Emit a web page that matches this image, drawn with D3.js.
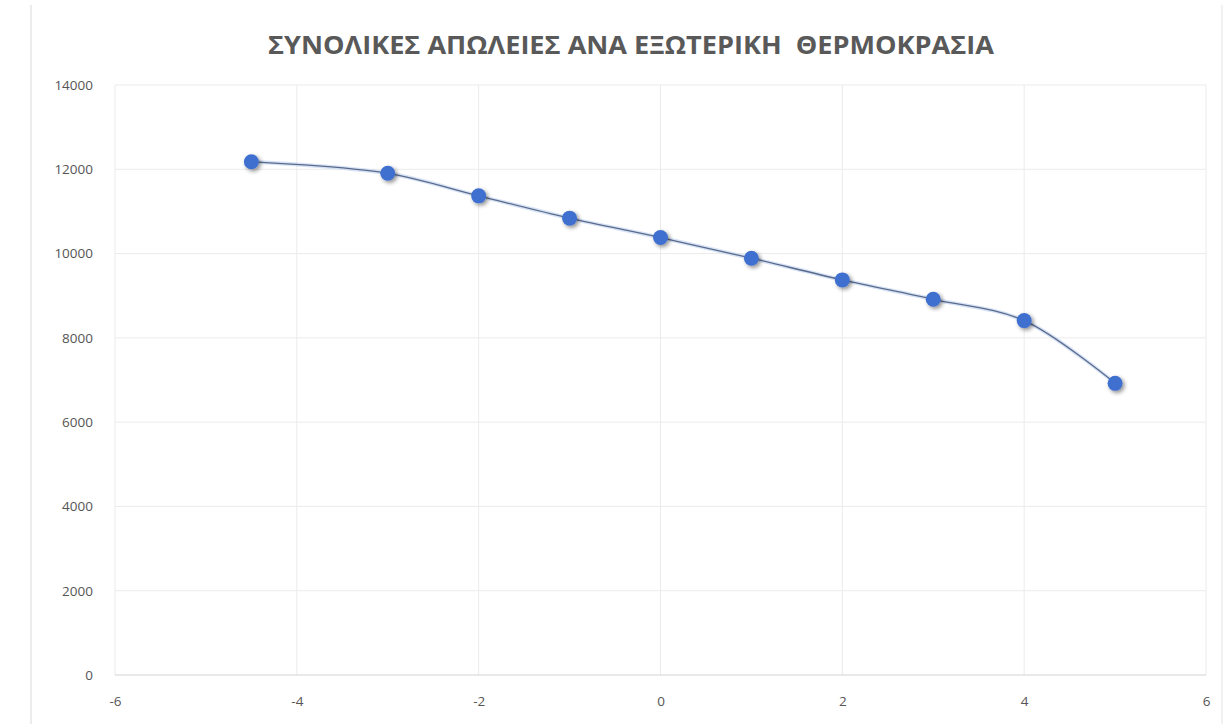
<!DOCTYPE html>
<html><head><meta charset="utf-8">
<script src="https://cdn.jsdelivr.net/npm/d3@7"></script>
<style>body{margin:0;background:#fff}svg{display:block}</style>
</head><body><svg id="c" width="1230" height="724"></svg>
<script>
const title = "ΣΥΝΟΛΙΚΕΣ ΑΠΩΛΕΙΕΣ ΑΝΑ ΕΞΩΤΕΡΙΚΗ  ΘΕΡΜΟΚΡΑΣΙΑ";
const temps = [-4.5, -3, -2, -1, 0, 1, 2, 3, 4, 5];
const losses = [12180, 11905, 11370, 10840, 10380, 9890, 9375, 8915, 8410, 6920];
const xTicks = [-6, -4, -2, 0, 2, 4, 6];
const yTicks = [0, 2000, 4000, 6000, 8000, 10000, 12000, 14000];

const svg = d3.select("#c");
const x = d3.scaleLinear().domain([-6, 6]).range([115, 1206]);
const y = d3.scaleLinear().domain([0, 14000]).range([675, 85]);

svg.append("line").attr("x1",31).attr("x2",31).attr("y1",5).attr("y2",724).attr("stroke","#e6e6e6").attr("stroke-width",1.5);
svg.append("line").attr("x1",1222).attr("x2",1222).attr("y1",5).attr("y2",724).attr("stroke","#ececec").attr("stroke-width",1.5);

const defs = svg.append("defs");
const f = defs.append("filter").attr("id","sh").attr("x","-50%").attr("y","-50%").attr("width","200%").attr("height","200%");
f.append("feGaussianBlur").attr("in","SourceAlpha").attr("stdDeviation",2).attr("result","b");
f.append("feOffset").attr("in","b").attr("dx",2).attr("dy",2).attr("result","o");
f.append("feComponentTransfer").attr("in","o").attr("result","o2").append("feFuncA").attr("type","linear").attr("slope",0.45);
const m = f.append("feMerge"); m.append("feMergeNode").attr("in","o2"); m.append("feMergeNode").attr("in","SourceGraphic");

svg.append("g").selectAll("line").data(yTicks.filter(d=>d>0)).join("line")
  .attr("x1",x(-6)).attr("x2",x(6)).attr("y1",d=>y(d)).attr("y2",d=>y(d))
  .attr("stroke","#ebebeb").attr("stroke-width",1);
svg.append("g").selectAll("line").data(xTicks).join("line")
  .attr("x1",d=>x(d)).attr("x2",d=>x(d)).attr("y1",y(14000)).attr("y2",y(0))
  .attr("stroke","#ebebeb").attr("stroke-width",1);
svg.append("line").attr("x1",x(-6)).attr("x2",x(6)).attr("y1",y(0)).attr("y2",y(0)).attr("stroke","#d4d4d4").attr("stroke-width",1.2);

const fmt = d => String(d);
const yAxis = d3.axisLeft(y).tickValues(yTicks).tickSize(0).tickPadding(0).tickFormat(fmt);
const ya = svg.append("g").attr("transform","translate(93,0)").call(yAxis);
ya.select(".domain").remove();
ya.selectAll("text").attr("fill","#555").style("font-family","'Open Sans', sans-serif").style("font-size","13.5px");

const xAxis = d3.axisBottom(x).tickValues(xTicks).tickSize(0).tickPadding(0).tickFormat(fmt);
const xa = svg.append("g").attr("transform","translate(0,696)").call(xAxis);
xa.select(".domain").remove();
xa.selectAll("text").attr("fill","#555").style("font-family","'Open Sans', sans-serif").style("font-size","13.5px");

svg.append("text").attr("x",631).attr("y",54).attr("text-anchor","middle")
  .attr("textLength",726).attr("lengthAdjust","spacingAndGlyphs")
  .style("white-space","pre")
  .style("font-family","'Open Sans', sans-serif").style("font-weight","bold").style("font-size","25px")
  .attr("fill","#595959").text(title);

const data = temps.map((t,i)=>({t, v: losses[i]}));
const line = d3.line().x(d=>x(d.t)).y(d=>y(d.v)).curve(d3.curveCatmullRom.alpha(0.5));
svg.append("path").datum(data).attr("d",line).attr("fill","none")
  .attr("stroke","#bcd0ee").attr("stroke-width",4).attr("opacity",0.6);
svg.append("path").datum(data).attr("d",line).attr("fill","none")
  .attr("stroke","#5a6a8c").attr("stroke-width",1.3);

svg.append("g").selectAll("circle").data(data).join("circle")
  .attr("cx",d=>x(d.t)).attr("cy",d=>y(d.v)).attr("r",7.5)
  .attr("fill","#3f6fcf").attr("filter","url(#sh)");
</script></body></html>
